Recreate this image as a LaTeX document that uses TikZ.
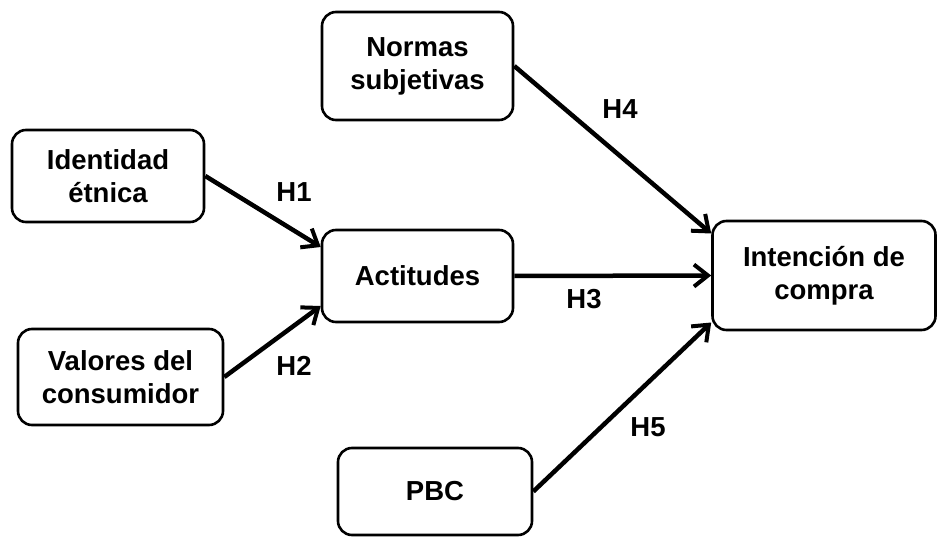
\documentclass[tikz,border=0pt]{standalone}
\usepackage{fontspec}
\setmainfont{Liberation Sans}
\usetikzlibrary{arrows.meta,calc}
\tikzset{
  box/.style={draw=black, line width=2.6pt, rounded corners=14pt, fill=white,
    align=center, inner sep=0pt, font=\fontsize{27.5}{33}\selectfont\bfseries},
  conn/.style={line width=4.5pt, -{Straight Barb[length=14pt,width=22pt,line width=4pt]}},
  hlab/.style={font=\fontsize{27.5}{30}\selectfont\bfseries, inner sep=0pt}
}
\begin{document}
\begin{tikzpicture}[x=1pt,y=-1pt]
\useasboundingbox (0,0) rectangle (939,537);
\node[box, minimum width=191pt, minimum height=108pt] (norm) at (417.5,66) {Normas\\subjetivas};
\node[box, minimum width=192pt, minimum height=92pt] (ident) at (108,176) {Identidad\\étnica};
\node[box, minimum width=191pt, minimum height=92pt] (act) at (417.5,276) {Actitudes};
\node[box, minimum width=205pt, minimum height=96pt] (val) at (120.5,377) {Valores del\\consumidor};
\node[box, minimum width=194pt, minimum height=87pt] (pbc) at (435,491.5) {PBC};
\node[box, minimum width=223pt, minimum height=109pt] (int) at (824,275.5) {Intención de\\compra};

\coordinate (actA) at ($(act.west)+(0,-29)$);
\coordinate (actB) at ($(act.west)+(0,30)$);
\coordinate (intA) at ($(int.west)+(0,-42)$);
\coordinate (intC) at ($(int.west)+(0,47)$);

\draw[conn] (ident.east) -- (actA);
\draw[conn] (val.east) -- (actB);
\draw[conn] (act.east) -- (int.west);
\draw[conn] (norm.east) -- (intA);
\draw[conn] (pbc.east) -- (intC);

\node[hlab] (h1) at (294,192) {H1};
\node[hlab] (h2) at (294,366) {H2};
\node[hlab] (h3) at (584,299) {H3};
\node[hlab] (h4) at (620,109) {H4};
\node[hlab] (h5) at (648,427) {H5};
\end{tikzpicture}
\end{document}
